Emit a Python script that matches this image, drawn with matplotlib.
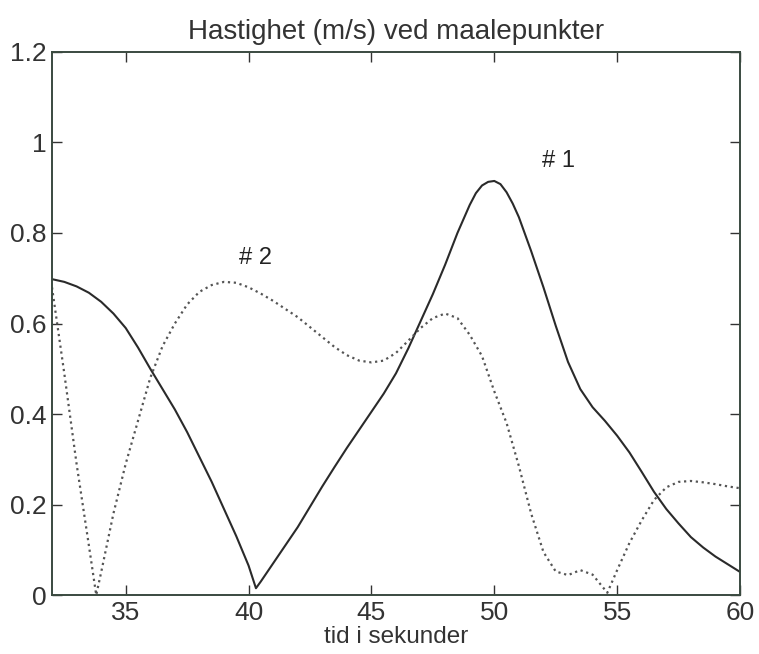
import matplotlib
matplotlib.use("Agg")
import matplotlib.pyplot as plt

title = "Hastighet (m/s) ved maalepunkter"
xlabel = "tid i sekunder"

t1 = [32, 32.5, 33, 33.5, 34, 34.5, 35, 35.5, 36, 36.5, 37, 37.5, 38, 38.5, 39, 39.5,
      40, 40.3, 40.5, 41, 41.5, 42, 42.5, 43, 43.5, 44, 44.5, 45, 45.5, 46, 46.5, 47,
      47.5, 48, 48.5, 49, 49.25, 49.5, 49.75, 50, 50.25, 50.5, 50.75, 51, 51.5, 52,
      52.5, 53, 53.5, 54, 54.5, 55, 55.5, 56, 56.5, 57, 57.5, 58, 58.5, 59, 59.5, 60]
v1 = [0.698, 0.692, 0.682, 0.668, 0.648, 0.622, 0.590, 0.547, 0.500, 0.455, 0.410, 0.360,
      0.305, 0.250, 0.190, 0.130, 0.065, 0.015, 0.030, 0.070, 0.110, 0.150, 0.195, 0.240,
      0.283, 0.325, 0.365, 0.405, 0.445, 0.490, 0.545, 0.605, 0.665, 0.730, 0.800, 0.862,
      0.888, 0.905, 0.913, 0.915, 0.908, 0.890, 0.865, 0.835, 0.760, 0.680, 0.595, 0.515,
      0.455, 0.415, 0.385, 0.352, 0.315, 0.272, 0.228, 0.190, 0.158, 0.128, 0.105, 0.085,
      0.068, 0.051]

t2 = [32, 32.5, 33, 33.5, 33.8, 34, 34.5, 35, 35.5, 36, 36.5, 37, 37.5, 38, 38.5, 39,
      39.5, 40, 40.5, 41, 41.5, 42, 42.5, 43, 43.5, 44, 44.5, 45, 45.5, 46, 46.5, 47,
      47.5, 48, 48.5, 49, 49.5, 50, 50.5, 51, 51.5, 52, 52.5, 53, 53.5, 54, 54.3, 54.6,
      55, 55.5, 56, 56.5, 57, 57.5, 58, 58.5, 59, 59.5, 60]
v2 = [0.680, 0.490, 0.290, 0.110, 0.000, 0.050, 0.180, 0.290, 0.385, 0.480, 0.550, 0.600,
      0.642, 0.670, 0.685, 0.692, 0.690, 0.680, 0.666, 0.650, 0.632, 0.614, 0.592, 0.570,
      0.548, 0.530, 0.518, 0.514, 0.518, 0.535, 0.562, 0.590, 0.612, 0.622, 0.612, 0.575,
      0.528, 0.450, 0.380, 0.285, 0.180, 0.095, 0.052, 0.044, 0.055, 0.045, 0.025, 0.005,
      0.055, 0.115, 0.165, 0.210, 0.238, 0.250, 0.252, 0.249, 0.245, 0.240, 0.236]

labels = ["# 1", "# 2"]
label_pos = [(52.6, 0.96), (40.3, 0.745)]

xticks = [35, 40, 45, 50, 55, 60]
yticks = [0, 0.2, 0.4, 0.6, 0.8, 1.0, 1.2]
yticklabels = ["0", "0.2", "0.4", "0.6", "0.8", "1", "1.2"]

plt.rcParams['font.family'] = ['Liberation Sans', 'DejaVu Sans']

fig = plt.figure(figsize=(7.59, 6.54), dpi=100)
ax = fig.add_axes([0.0685, 0.0902, 0.9065, 0.8303])

ax.plot(t1, v1, '-', color='#2a2a2a', lw=1.5)
ax.plot(t2, v2, ':', color='#555555', lw=1.6)

for lab, (x, y) in zip(labels, label_pos):
    ax.text(x, y, lab, fontsize=17, ha='center', va='center', color='#222222')

ax.set_xlim(32, 60)
ax.set_ylim(0, 1.2)
ax.set_xticks(xticks)
ax.set_yticks(yticks)
ax.set_yticklabels(yticklabels)
ax.tick_params(direction='in', top=True, right=True, length=7, width=1.0,
               labelsize=19, colors='#333333', pad=4)
for s in ax.spines.values():
    s.set_color('#3a4a40')
    s.set_linewidth(1.4)

ax.set_title(title, fontsize=20, color='#333333', pad=9)
ax.set_xlabel(xlabel, fontsize=17.5, color='#333333', labelpad=1)

fig.savefig("out.png", dpi=100)
